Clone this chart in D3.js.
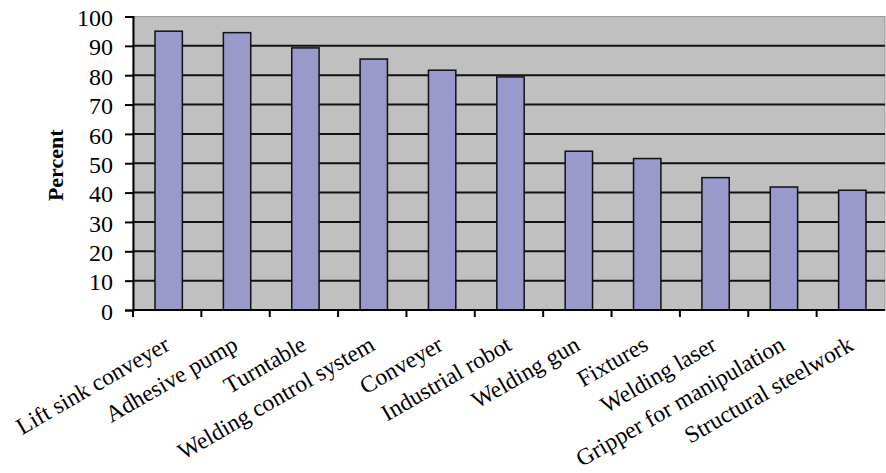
<!DOCTYPE html>
<html>
<head>
<meta charset="utf-8">
<script src="https://cdn.jsdelivr.net/npm/d3@7"></script>
<style>
  html, body { margin: 0; padding: 0; background: #fff; }
  svg { display: block; }
  text { font-family: "Liberation Serif", "Times New Roman", serif; fill: #000; }
</style>
</head>
<body>
<svg id="chart" width="886" height="473"></svg>
<script>
// Equipment categories and the share (percent) for each
const categories = [
  "Lift sink conveyer", "Adhesive pump", "Turntable", "Welding control system",
  "Conveyer", "Industrial robot", "Welding gun", "Fixtures", "Welding laser",
  "Gripper for manipulation", "Structural steelwork"
];
const percentValues = [95.0, 94.5, 89.3, 85.5, 81.7, 79.4, 54.1, 51.6, 45.1, 41.9, 40.8];
const yTicks = [0, 10, 20, 30, 40, 50, 60, 70, 80, 90, 100];

const svg = d3.select("#chart");
const margin = { left: 133, right: 1, top: 16.5, bottom: 163 };
const width = 886 - margin.left - margin.right;
const height = 473 - margin.top - margin.bottom;

const g = svg.append("g").attr("transform", `translate(${margin.left},${margin.top})`);

const x = d3.scaleBand().domain(categories).range([0, width]).paddingInner(0.6).paddingOuter(0.3);
const xCat = d3.scaleBand().domain(categories).range([0, width]);
const y = d3.scaleLinear().domain([0, 100]).range([height, 0]);

// plot background
g.append("rect")
  .attr("x", 0).attr("y", 0).attr("width", width).attr("height", height)
  .attr("fill", "#c0c0c0").attr("stroke", "#9a9a9a").attr("stroke-width", 1);

// horizontal gridlines
g.append("g").selectAll("line")
  .data(yTicks.filter(d => d > 0 && d < 100))
  .join("line")
  .attr("x1", 0).attr("x2", width)
  .attr("y1", d => y(d)).attr("y2", d => y(d))
  .attr("stroke", "#111").attr("stroke-width", 2);

// bars
g.append("g").selectAll("rect")
  .data(categories)
  .join("rect")
  .attr("x", (d) => x(d) + 1.5)
  .attr("y", (d, i) => y(percentValues[i]))
  .attr("width", x.bandwidth())
  .attr("height", (d, i) => height - y(percentValues[i]))
  .attr("fill", "#9999cc")
  .attr("stroke", "#111")
  .attr("stroke-width", 1.5);

// y axis
const yAxis = d3.axisLeft(y).tickValues(yTicks).tickSize(8).tickPadding(12).tickFormat(d3.format("d"));
const yg = g.append("g").call(yAxis);
yg.select(".domain").attr("stroke", "#000").attr("stroke-width", 2);
yg.selectAll(".tick line").attr("stroke", "#000").attr("stroke-width", 2);
yg.selectAll(".tick text").style("font-size", "24px").attr("dy", "0.38em");

// x axis: domain line plus ticks at category boundaries
const xg = g.append("g").attr("transform", `translate(0,${height})`);
xg.append("line").attr("x1", 0).attr("x2", width).attr("y1", 0).attr("y2", 0)
  .attr("stroke", "#000").attr("stroke-width", 2);
xg.selectAll("line.tick")
  .data(categories)
  .join("line")
  .attr("class", "tick")
  .attr("x1", d => xCat(d)).attr("x2", d => xCat(d))
  .attr("y1", 0).attr("y2", 7)
  .attr("stroke", "#000").attr("stroke-width", 2);

// rotated category labels
xg.selectAll("text.cat")
  .data(categories)
  .join("text")
  .attr("class", "cat")
  .attr("text-anchor", "end")
  .style("font-size", "23.5px")
  .attr("transform", d => `translate(${xCat(d) + xCat.bandwidth() / 2 + 4},${39}) rotate(-30)`)
  .text(d => d);

// y axis title
svg.append("text")
  .attr("transform", `translate(63,${margin.top + height / 2 + 2}) rotate(-90)`)
  .attr("text-anchor", "middle")
  .style("font-size", "22px")
  .style("font-weight", "bold")
  .text("Percent");
</script>
</body>
</html>
